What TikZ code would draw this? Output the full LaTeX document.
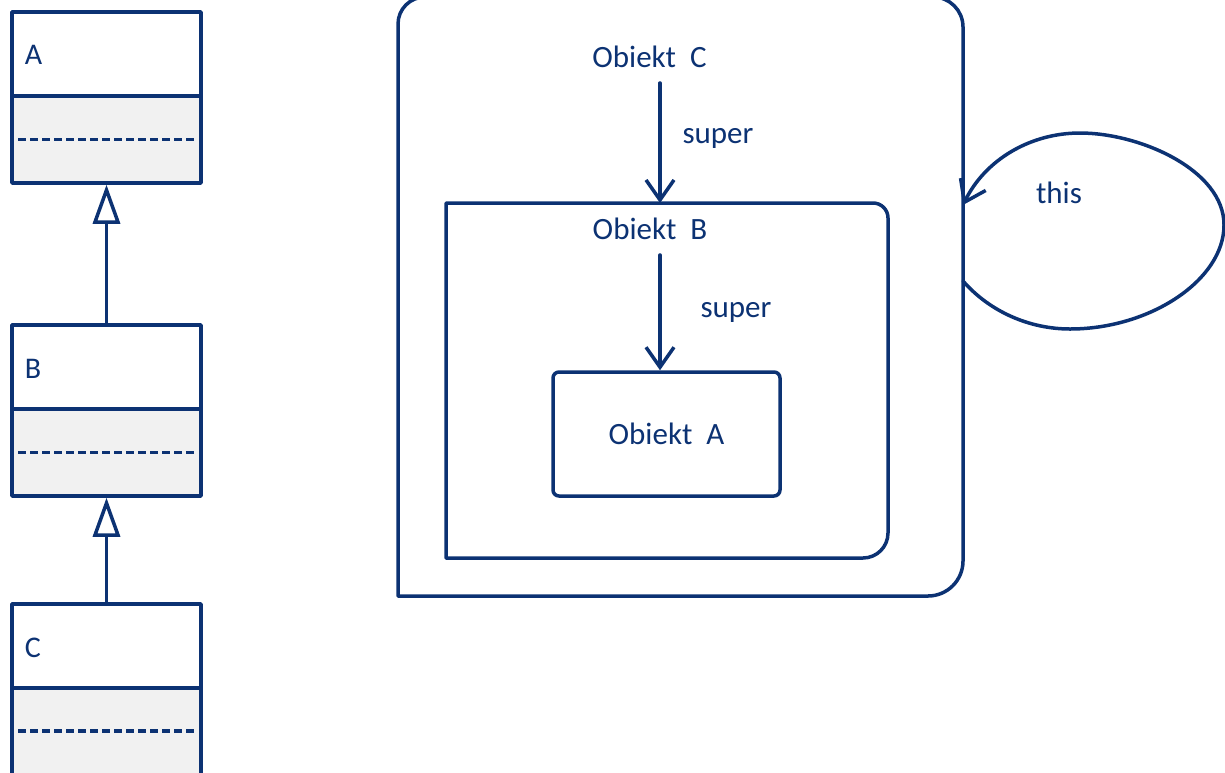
\documentclass[tikz,border=0pt]{standalone}
\usepackage{fontspec}
\setmainfont{Carlito}
\usetikzlibrary{arrows.meta,calc}
\definecolor{navy}{RGB}{12,50,115}
\definecolor{compfill}{RGB}{241,241,241}
\begin{document}
\begin{tikzpicture}[x=1pt,y=-1pt,line width=3.5pt,line join=round,line cap=round,
  clsname/.style={draw=navy,fill=white,minimum width=189pt,minimum height=84pt,inner sep=0pt},
  clscomp/.style={draw=navy,fill=compfill,minimum width=189pt,inner sep=0pt},
  sepline/.style={draw=navy,dash pattern=on 8pt off 4pt,line cap=butt},
  inh/.style={draw=navy,-{Triangle[open,length=39pt,width=27pt,fill=white]}},
  ref/.style={draw=navy,-{Straight Barb[length=20pt,width=28pt]}},
  container/.style={draw=navy},
  txt/.style={text=navy,inner sep=0pt,anchor=base,font=\fontsize{31}{37}\selectfont},
  clslabel/.style={text=navy,inner sep=0pt,anchor=base west,font=\fontsize{30}{36}\selectfont},
  objbox/.style={draw=navy,rounded corners=6pt,minimum width=227pt,minimum height=124pt,inner sep=0pt,text=navy,font=\fontsize{31}{37}\selectfont}
]
\useasboundingbox (0,0) rectangle (1225,772);

% ---- class diagram (left)
\node[clsname] (Atop) at (106.5,54) {};
\node[clscomp,minimum height=87pt] (Acomp) at (106.5,139.5) {};
\node[clslabel] (Alab) at (23,64) {A};
\draw[sepline] ([xshift=8pt]Acomp.west) -- ([xshift=-8pt]Acomp.east);

\node[clsname] (Btop) at (106.5,367) {};
\node[clscomp,minimum height=87pt] (Bcomp) at (106.5,452.5) {};
\node[clslabel] (Blab) at (23,378) {B};
\draw[sepline] ([xshift=8pt]Bcomp.west) -- ([xshift=-8pt]Bcomp.east);

\node[clsname] (Ctop) at (106.5,646) {};
\node[clscomp,minimum height=92pt] (Ccomp) at (106.5,734) {};
\node[clslabel] (Clab) at (23,657) {C};
\draw[sepline] ([xshift=8pt,yshift=3pt]Ccomp.west) -- ([xshift=-8pt,yshift=3pt]Ccomp.east);

\draw[inh] (Btop.north) -- (Acomp.south);
\draw[inh] (Ctop.north) -- (Bcomp.south);

% ---- object nesting (right)
\draw[container] (398,596) -- (398,24) .. controls (398,9.1) and (410.1,-3) .. (425,-3)
  -- (933,-3) .. controls (949.6,-3) and (963,10.4) .. (963,27)
  -- (963,561) .. controls (963,580.3) and (947.3,596) .. (928,596) -- cycle;
\draw[container] (446,558) -- (446,203) -- (873,203) .. controls (881.3,203) and (888,209.7) .. (888,218)
  -- (888,533) .. controls (888,546.8) and (876.8,558) .. (863,558) -- cycle;

\coordinate (Bentry) at (660,203);
\node[objbox] (Aobj) at (666.5,434) {Obiekt~~A};

\node[txt] (objC) at (649.5,67) {Obiekt~~C};
\node[txt] (objB) at (650,239) {Obiekt~~B};
\node[txt] (sup1) at (718,143) {super};
\node[txt] (sup2) at (736,317) {super};
\node[txt] (thislab) at (1059,203) {this};

\draw[ref,shorten <=14pt] (objC.south -| Bentry) -- (Bentry);
\draw[ref,shorten <=14pt] (objB.south -| Bentry) -- (Aobj.north -| Bentry);

\coordinate (thisOut) at (963,281);
\coordinate (thisIn) at (963,205);
\draw[ref] (thisOut) .. controls (990,312) and (1030,329) .. (1070,329)
  .. controls (1150,329) and (1224,280) .. (1224,225)
  .. controls (1224,170) and (1140,133) .. (1080,133)
  .. controls (1030,133) and (985,160) .. (thisIn);
\end{tikzpicture}
\end{document}
